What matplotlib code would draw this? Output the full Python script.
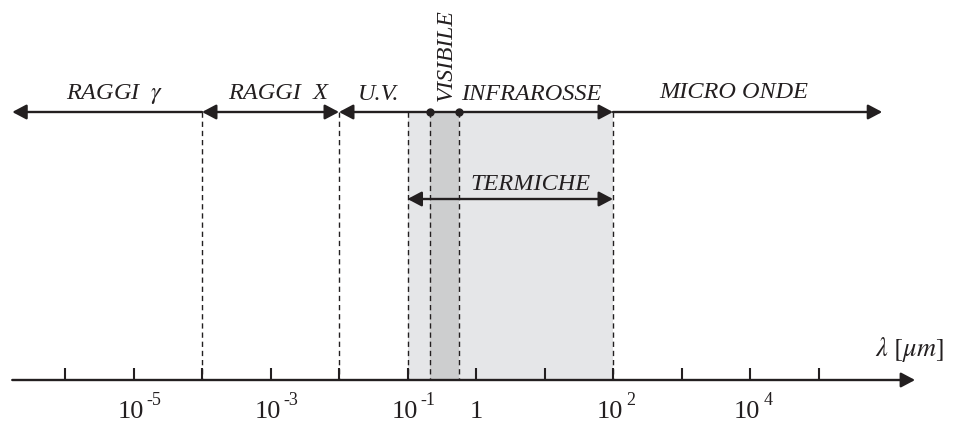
import numpy as np
import matplotlib
matplotlib.use('Agg')
import matplotlib.pyplot as plt

plt.rcParams['font.family'] = ['Liberation Serif', 'DejaVu Serif']
plt.rcParams['mathtext.fontset'] = 'stix'

# wavelength decades (log10 of um)
tick_exps = list(range(-6, 6))
label_exps = [-5, -3, -1, 0, 2, 4]

# band boundaries, in um
gamma_start = 10 ** -6.77
x_start = 1e-4
uv_start = 1e-2
term_start = 1e-1
vis_lo = 0.213
vis_hi = 0.565
ir_end = 1e2
mw_end = 10 ** 5.93
axis_end = 10 ** 6.41

band_names = ['RAGGI  $\\gamma$', 'RAGGI  X', 'U.V.', 'INFRAROSSE', 'MICRO ONDE']
band_label_x = [10 ** -5.27, 10 ** -2.89, 10 ** -1.43, 10 ** 0.80, 10 ** 3.77]
band_label_y = [99, 99, 100, 100, 98]

light = '#e5e6e8'
dark = '#cdcecf'
ink = '#231f20'

fig = plt.figure(figsize=(9.54, 4.24), dpi=100)
ax = fig.add_axes([0, 0, 1, 1])
ax.set_xscale('log')
ax.set_xlim(10 ** (-476 / 68.5), 10 ** ((954 - 476) / 68.5))
ax.set_ylim(424, 0)
ax.axis('off')

y_top = 112
y_axis = 380
y_term = 199

# shaded regions
ax.fill_between([term_start, ir_end], y_top, y_axis, color=light, lw=0, zorder=0)
ax.fill_between([vis_lo, vis_hi], y_top, y_axis, color=dark, lw=0, zorder=0)

# dashed boundaries
for b in [x_start, uv_start, term_start, vis_lo, vis_hi, ir_end]:
    ax.plot([b, b], [y_top, y_axis], color=ink, lw=1.0, dashes=(3.8, 2.8), zorder=1)

def arrow(x0, x1, y, style):
    ax.annotate('', xy=(x1, y), xytext=(x0, y),
                arrowprops=dict(arrowstyle=style + ',head_length=0.85,head_width=0.45',
                                color=ink, lw=1.7, shrinkA=0, shrinkB=0,
                                mutation_scale=10), zorder=3)

# top band arrows
arrow(x_start, gamma_start, y_top, '-|>')
arrow(x_start, uv_start, y_top, '<|-|>')
arrow(vis_lo, uv_start, y_top, '-|>')
ax.plot([vis_lo, vis_hi], [y_top, y_top], color=ink, lw=1.7, zorder=3)
ax.plot([vis_lo, vis_hi], [y_top, y_top], 'o', color=ink, ms=5, zorder=4)
arrow(vis_hi, ir_end, y_top, '-|>')
arrow(ir_end, mw_end, y_top, '-|>')

# termiche arrow
arrow(term_start, ir_end, y_term, '<|-|>')

# main axis
arrow(gamma_start, axis_end, y_axis, '-|>')
for e in tick_exps:
    ax.plot([10.0 ** e, 10.0 ** e], [y_axis - 12, y_axis], color=ink, lw=1.5,
            solid_capstyle='butt', zorder=3)

# tick labels
for e in label_exps:
    if e == 0:
        ax.text(1.0, 418, '1', fontsize=19, ha='center', va='baseline', color=ink)
        continue
    ax.annotate('10', xy=(10.0 ** e, 418), xytext=(-2.2, 0), textcoords='offset points',
                fontsize=19, ha='center', va='baseline', color=ink)
    ax.annotate(str(e), xy=(10.0 ** e, 405), xytext=(9.5, 0), textcoords='offset points',
                fontsize=13, ha='left', va='baseline', color=ink)

# band labels
for name, bx, by in zip(band_names, band_label_x, band_label_y):
    ax.text(bx, by, name, fontsize=17.5, style='italic', ha='center', va='baseline', color=ink)

ax.text(10 ** -0.44, 101, 'VISIBILE', fontsize=17, style='italic', rotation=90,
        ha='center', va='bottom', color=ink)
ax.text(10 ** 0.79, 190, 'TERMICHE', fontsize=17.5, style='italic', ha='center',
        va='baseline', color=ink)
ax.text(10 ** 5.82, 356, '$\\lambda\\ [\\mu m]$', fontsize=19, ha='left', va='baseline',
        color=ink)

fig.savefig('out.png', dpi=100)
